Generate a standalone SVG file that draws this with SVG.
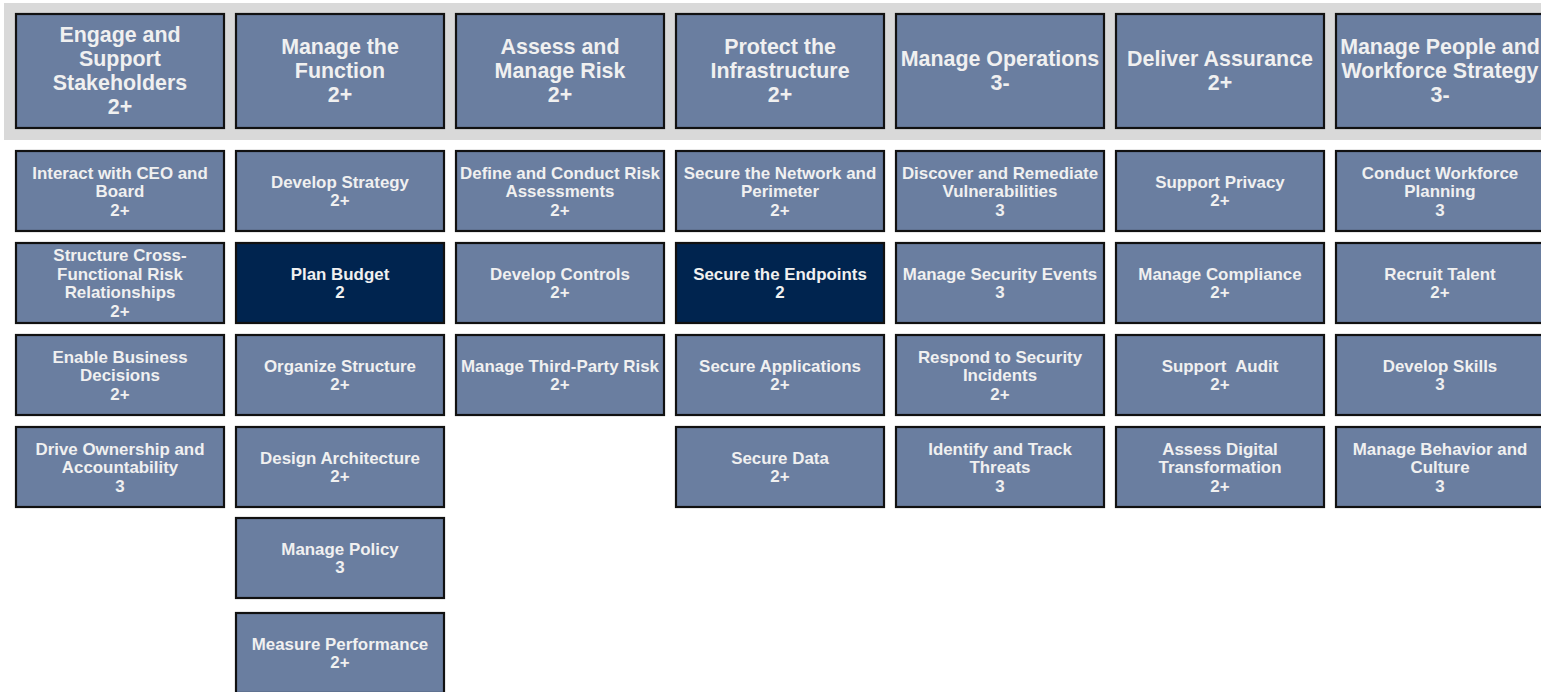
<svg xmlns="http://www.w3.org/2000/svg" width="1541" height="692" viewBox="0 0 1541 692">
<style>
.b{fill:#6A7EA0;stroke:#111;stroke-width:2.2}
.d{fill:#00244F;stroke:#111;stroke-width:2.2}
text{font-family:"Liberation Sans",Arial,sans-serif;font-weight:bold;fill:#F0F0F0;text-anchor:middle}
.h{font-size:21.4px}
.s{font-size:16.9px}
</style>
<rect x="4" y="3" width="1537" height="137" fill="#D9D9D9"/>
<g id="connectors"/>
<g id="h1"><rect class="b" x="16" y="14" width="208" height="114"/><text class="h" x="120" y="42"><tspan x="120">Engage and</tspan><tspan x="120" dy="24">Support</tspan><tspan x="120" dy="24">Stakeholders</tspan><tspan x="120" dy="24">2+</tspan></text></g>
<g id="h2"><rect class="b" x="236" y="14" width="208" height="114"/><text class="h" x="340" y="54"><tspan x="340">Manage the</tspan><tspan x="340" dy="24">Function</tspan><tspan x="340" dy="24">2+</tspan></text></g>
<g id="h3"><rect class="b" x="456" y="14" width="208" height="114"/><text class="h" x="560" y="54"><tspan x="560">Assess and</tspan><tspan x="560" dy="24">Manage Risk</tspan><tspan x="560" dy="24">2+</tspan></text></g>
<g id="h4"><rect class="b" x="676" y="14" width="208" height="114"/><text class="h" x="780" y="54"><tspan x="780">Protect the</tspan><tspan x="780" dy="24">Infrastructure</tspan><tspan x="780" dy="24">2+</tspan></text></g>
<g id="h5"><rect class="b" x="896" y="14" width="208" height="114"/><text class="h" x="1000" y="66"><tspan x="1000">Manage Operations</tspan><tspan x="1000" dy="24">3-</tspan></text></g>
<g id="h6"><rect class="b" x="1116" y="14" width="208" height="114"/><text class="h" x="1220" y="66"><tspan x="1220">Deliver Assurance</tspan><tspan x="1220" dy="24">2+</tspan></text></g>
<g id="h7"><rect class="b" x="1336" y="14" width="208" height="114"/><text class="h" x="1440" y="54"><tspan x="1440">Manage People and</tspan><tspan x="1440" dy="24">Workforce Strategy</tspan><tspan x="1440" dy="24">3-</tspan></text></g>

<g id="c1r1"><rect class="b" x="16" y="151" width="208" height="80"/><text class="s" y="178.5"><tspan x="120">Interact with CEO and</tspan><tspan x="120" dy="18.5">Board</tspan><tspan x="120" dy="18.5">2+</tspan></text></g>
<g id="c1r2"><rect class="b" x="16" y="243" width="208" height="80"/><text class="s" y="261.25"><tspan x="120">Structure Cross-</tspan><tspan x="120" dy="18.5">Functional Risk</tspan><tspan x="120" dy="18.5">Relationships</tspan><tspan x="120" dy="18.5">2+</tspan></text></g>
<g id="c1r3"><rect class="b" x="16" y="335" width="208" height="80"/><text class="s" y="362.5"><tspan x="120">Enable Business</tspan><tspan x="120" dy="18.5">Decisions</tspan><tspan x="120" dy="18.5">2+</tspan></text></g>
<g id="c1r4"><rect class="b" x="16" y="427" width="208" height="80"/><text class="s" y="454.5"><tspan x="120">Drive Ownership and</tspan><tspan x="120" dy="18.5">Accountability</tspan><tspan x="120" dy="18.5">3</tspan></text></g>

<g id="c2r1"><rect class="b" x="236" y="151" width="208" height="80"/><text class="s" y="187.75"><tspan x="340">Develop Strategy</tspan><tspan x="340" dy="18.5">2+</tspan></text></g>
<g id="c2r2"><rect class="d" x="236" y="243" width="208" height="80"/><text class="s" y="279.75"><tspan x="340">Plan Budget</tspan><tspan x="340" dy="18.5">2</tspan></text></g>
<g id="c2r3"><rect class="b" x="236" y="335" width="208" height="80"/><text class="s" y="371.75"><tspan x="340">Organize Structure</tspan><tspan x="340" dy="18.5">2+</tspan></text></g>
<g id="c2r4"><rect class="b" x="236" y="427" width="208" height="80"/><text class="s" y="463.75"><tspan x="340">Design Architecture</tspan><tspan x="340" dy="18.5">2+</tspan></text></g>
<g id="c2r5"><rect class="b" x="236" y="518" width="208" height="80"/><text class="s" y="554.75"><tspan x="340">Manage Policy</tspan><tspan x="340" dy="18.5">3</tspan></text></g>
<g id="c2r6"><rect class="b" x="236" y="613" width="208" height="80"/><text class="s" y="649.75"><tspan x="340">Measure Performance</tspan><tspan x="340" dy="18.5">2+</tspan></text></g>

<g id="c3r1"><rect class="b" x="456" y="151" width="208" height="80"/><text class="s" y="178.5"><tspan x="560">Define and Conduct Risk</tspan><tspan x="560" dy="18.5">Assessments</tspan><tspan x="560" dy="18.5">2+</tspan></text></g>
<g id="c3r2"><rect class="b" x="456" y="243" width="208" height="80"/><text class="s" y="279.75"><tspan x="560">Develop Controls</tspan><tspan x="560" dy="18.5">2+</tspan></text></g>
<g id="c3r3"><rect class="b" x="456" y="335" width="208" height="80"/><text class="s" y="371.75"><tspan x="560">Manage Third-Party Risk</tspan><tspan x="560" dy="18.5">2+</tspan></text></g>

<g id="c4r1"><rect class="b" x="676" y="151" width="208" height="80"/><text class="s" y="178.5"><tspan x="780">Secure the Network and</tspan><tspan x="780" dy="18.5">Perimeter</tspan><tspan x="780" dy="18.5">2+</tspan></text></g>
<g id="c4r2"><rect class="d" x="676" y="243" width="208" height="80"/><text class="s" y="279.75"><tspan x="780">Secure the Endpoints</tspan><tspan x="780" dy="18.5">2</tspan></text></g>
<g id="c4r3"><rect class="b" x="676" y="335" width="208" height="80"/><text class="s" y="371.75"><tspan x="780">Secure Applications</tspan><tspan x="780" dy="18.5">2+</tspan></text></g>
<g id="c4r4"><rect class="b" x="676" y="427" width="208" height="80"/><text class="s" y="463.75"><tspan x="780">Secure Data</tspan><tspan x="780" dy="18.5">2+</tspan></text></g>

<g id="c5r1"><rect class="b" x="896" y="151" width="208" height="80"/><text class="s" y="178.5"><tspan x="1000">Discover and Remediate</tspan><tspan x="1000" dy="18.5">Vulnerabilities</tspan><tspan x="1000" dy="18.5">3</tspan></text></g>
<g id="c5r2"><rect class="b" x="896" y="243" width="208" height="80"/><text class="s" y="279.75"><tspan x="1000">Manage Security Events</tspan><tspan x="1000" dy="18.5">3</tspan></text></g>
<g id="c5r3"><rect class="b" x="896" y="335" width="208" height="80"/><text class="s" y="362.5"><tspan x="1000">Respond to Security</tspan><tspan x="1000" dy="18.5">Incidents</tspan><tspan x="1000" dy="18.5">2+</tspan></text></g>
<g id="c5r4"><rect class="b" x="896" y="427" width="208" height="80"/><text class="s" y="454.5"><tspan x="1000">Identify and Track</tspan><tspan x="1000" dy="18.5">Threats</tspan><tspan x="1000" dy="18.5">3</tspan></text></g>

<g id="c6r1"><rect class="b" x="1116" y="151" width="208" height="80"/><text class="s" y="187.75"><tspan x="1220">Support Privacy</tspan><tspan x="1220" dy="18.5">2+</tspan></text></g>
<g id="c6r2"><rect class="b" x="1116" y="243" width="208" height="80"/><text class="s" y="279.75"><tspan x="1220">Manage Compliance</tspan><tspan x="1220" dy="18.5">2+</tspan></text></g>
<g id="c6r3"><rect class="b" x="1116" y="335" width="208" height="80"/><text class="s" y="371.75" xml:space="preserve"><tspan x="1220">Support  Audit</tspan><tspan x="1220" dy="18.5">2+</tspan></text></g>
<g id="c6r4"><rect class="b" x="1116" y="427" width="208" height="80"/><text class="s" y="454.5"><tspan x="1220">Assess Digital</tspan><tspan x="1220" dy="18.5">Transformation</tspan><tspan x="1220" dy="18.5">2+</tspan></text></g>

<g id="c7r1"><rect class="b" x="1336" y="151" width="208" height="80"/><text class="s" y="178.5"><tspan x="1440">Conduct Workforce</tspan><tspan x="1440" dy="18.5">Planning</tspan><tspan x="1440" dy="18.5">3</tspan></text></g>
<g id="c7r2"><rect class="b" x="1336" y="243" width="208" height="80"/><text class="s" y="279.75"><tspan x="1440">Recruit Talent</tspan><tspan x="1440" dy="18.5">2+</tspan></text></g>
<g id="c7r3"><rect class="b" x="1336" y="335" width="208" height="80"/><text class="s" y="371.75"><tspan x="1440">Develop Skills</tspan><tspan x="1440" dy="18.5">3</tspan></text></g>
<g id="c7r4"><rect class="b" x="1336" y="427" width="208" height="80"/><text class="s" y="454.5"><tspan x="1440">Manage Behavior and</tspan><tspan x="1440" dy="18.5">Culture</tspan><tspan x="1440" dy="18.5">3</tspan></text></g>
</svg>
